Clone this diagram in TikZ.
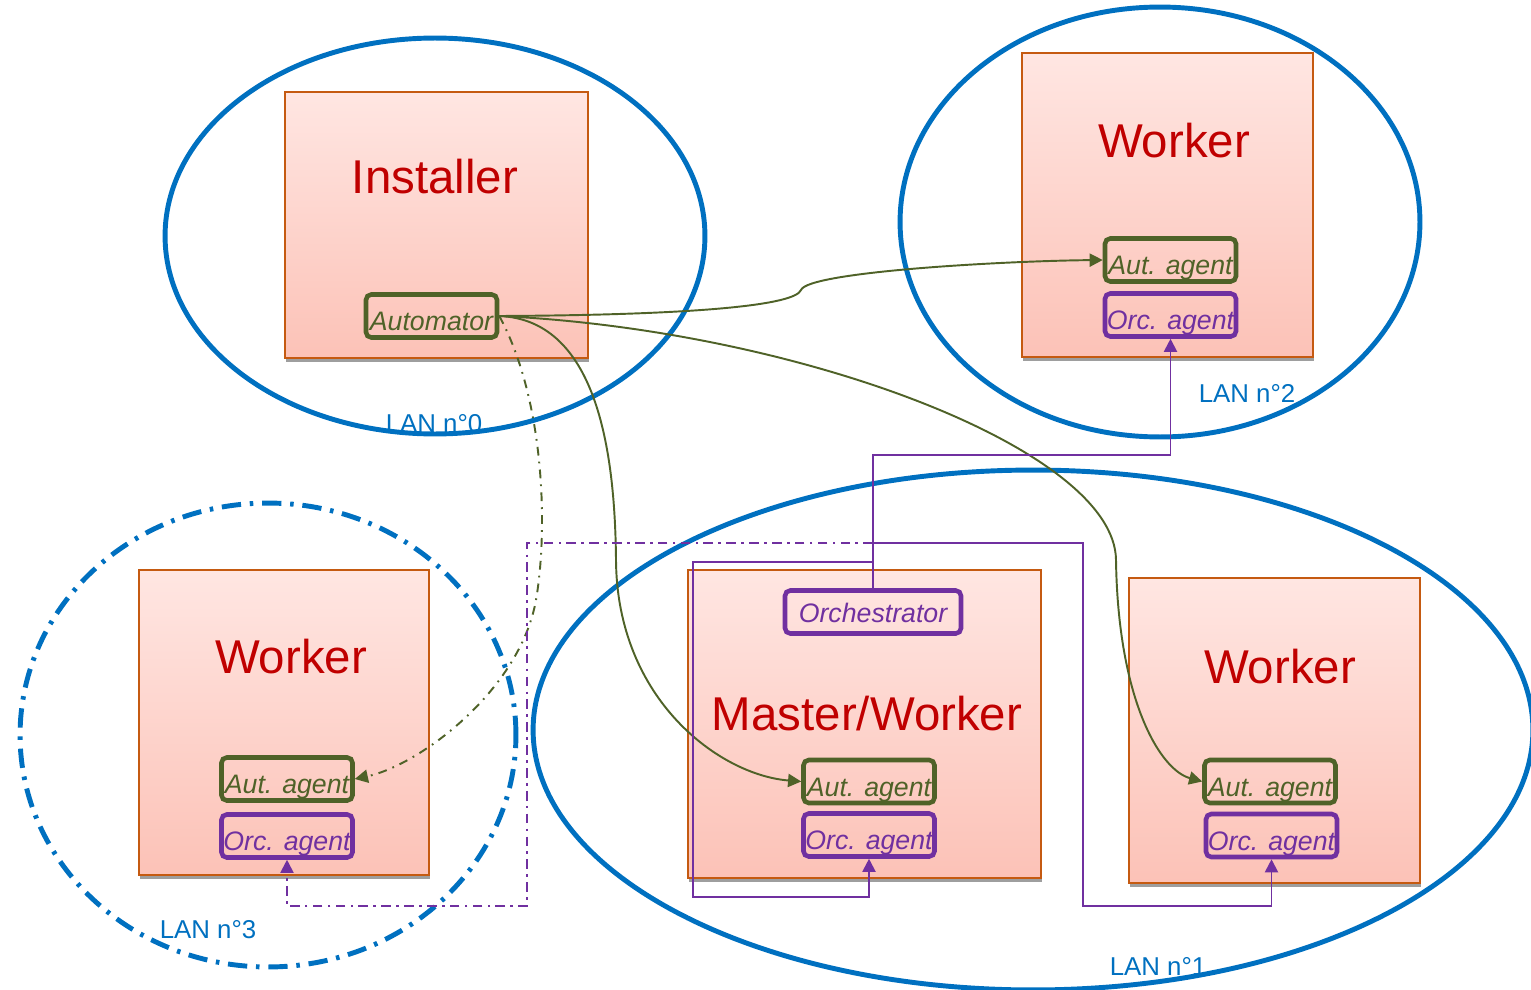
\documentclass[tikz,border=0pt]{standalone}
\usepackage{fontspec}
\setmainfont{Liberation Sans}
\usetikzlibrary{arrows.meta,shadows}
\definecolor{lanblue}{HTML}{0070C0}
\definecolor{autgreen}{HTML}{4F6228}
\definecolor{orcpurple}{HTML}{7030A0}
\definecolor{hostred}{HTML}{C00000}
\definecolor{hostedge}{HTML}{C55A11}
\definecolor{hosttop}{HTML}{FFE6E2}
\definecolor{hostbottom}{HTML}{FCC2B7}

\begin{document}
\begin{tikzpicture}[x=0.02cm,y=-0.02cm,
  host/.style={draw=hostedge,line width=0.9pt,top color=hosttop,bottom color=hostbottom,inner sep=0pt,
    drop shadow={shadow xshift=0.6pt,shadow yshift=-2.4pt,fill=black!38,opacity=1}},
  hostname/.style={anchor=base,text=hostred,font=\fontsize{27}{30}\selectfont},
  agent/.style={rounded corners=3pt,line width=2.6pt,minimum height=0.86cm,inner sep=0pt,
    text height=17pt,text depth=0pt,font=\fontsize{15.2}{17}\selectfont\itshape},
  aut/.style={agent,minimum width=2.62cm,draw=autgreen,text=autgreen},
  orc/.style={agent,minimum width=2.62cm,draw=orcpurple,text=orcpurple},
  lan/.style={draw=lanblue,line width=2.8pt},
  lanname/.style={anchor=base,text=lanblue,font=\fontsize{14.7}{16}\selectfont},
  autlink/.style={draw=autgreen,line width=1.1pt,-{Triangle[length=7.5pt,width=7.5pt]}},
  orclink/.style={draw=orcpurple,line width=1.1pt,-{Triangle[length=7.5pt,width=7.5pt]}}]

\useasboundingbox (0,0) rectangle (1531,990);

\draw[lan] (435,236) ellipse [x radius=5.4cm, y radius=3.96cm];
\draw[lan] (1160,222) ellipse [x radius=5.2cm, y radius=4.3cm];
\draw[lan] (1033,730) ellipse [x radius=10cm, y radius=5.2cm];
\draw[lan,dash pattern=on 11pt off 5pt on 2pt off 5pt] (268,735) ellipse [x radius=4.96cm, y radius=4.64cm];

\node[lanname] (lan0) at (434,432) {LAN n°0};
\node[lanname] (lan1) at (1158,975) {LAN n°1};
\node[lanname] (lan2) at (1247,402) {LAN n°2};
\node[lanname] (lan3) at (208,938) {LAN n°3};

\node[host,minimum width=6.06cm,minimum height=5.32cm] (installer) at (436.5,225) {};
\node[host,minimum width=5.82cm,minimum height=6.08cm] (workerA) at (1167.5,205) {};
\node[host,minimum width=5.8cm,minimum height=6.1cm] (workerB) at (284,722.5) {};
\node[host,minimum width=7.06cm,minimum height=6.16cm] (master) at (864.5,724) {};
\node[host,minimum width=5.82cm,minimum height=6.1cm] (workerC) at (1274.5,730.5) {};

\node[hostname] at (435,193) {Installer};
\node[hostname] at (1174,157) {Worker};
\node[hostname] at (291,673) {Worker};
\node[hostname] at (867,730) {Master/Worker};
\node[hostname] at (1280,683) {Worker};

\node[aut] (automator) at (431.5,316) {Automator};
\node[aut] (autA) at (1170.5,260) {Aut. agent};
\node[orc] (orcA) at (1170.5,315) {Orc. agent};
\node[aut] (autB) at (287,779) {Aut. agent};
\node[orc] (orcB) at (287,836) {Orc. agent};
\node[orc,minimum width=3.52cm,text height=12pt] (orch) at (873,612) {Orchestrator};
\node[aut] (autM) at (869,781.5) {Aut. agent};
\node[orc] (orcM) at (869,835) {Orc. agent};
\node[aut] (autC) at (1270,781.5) {Aut. agent};
\node[orc] (orcC) at (1271.5,835.5) {Orc. agent};

\draw[autlink] (automator.east) .. controls (700,315) and (795,305) .. (801,290) .. controls (808,272) and (1000,261) .. (autA.west);
\draw[autlink] (automator.east) .. controls (600,320) and (615,460) .. (616,560) .. controls (617,700) and (720,775) .. (autM.west);
\draw[autlink] (automator.east) .. controls (800,330) and (1115,450) .. (1116,560) .. controls (1118,700) and (1160,770) .. (autC.west);
\draw[autlink,dash pattern=on 5pt off 3.5pt on 1pt off 3.5pt] (automator.east) .. controls (545,400) and (548,530) .. (536,600) .. controls (520,690) and (420,765) .. (autB.east);

\coordinate (busA) at (873,455);
\coordinate (busR) at (873,543);
\coordinate (busM) at (873,562);
\draw[orclink] (orch.north) -- (busA) -| (orcA.south);
\draw[orclink] (busR) -| (1083,906) -| (orcC.south);
\draw[orclink] (busM) -| (693,897) -| (orcM.south);
\draw[orclink,dash pattern=on 5.5pt off 3pt on 1.5pt off 3pt] (busR) -| (527,906) -| (orcB.south);

\end{tikzpicture}
\end{document}
